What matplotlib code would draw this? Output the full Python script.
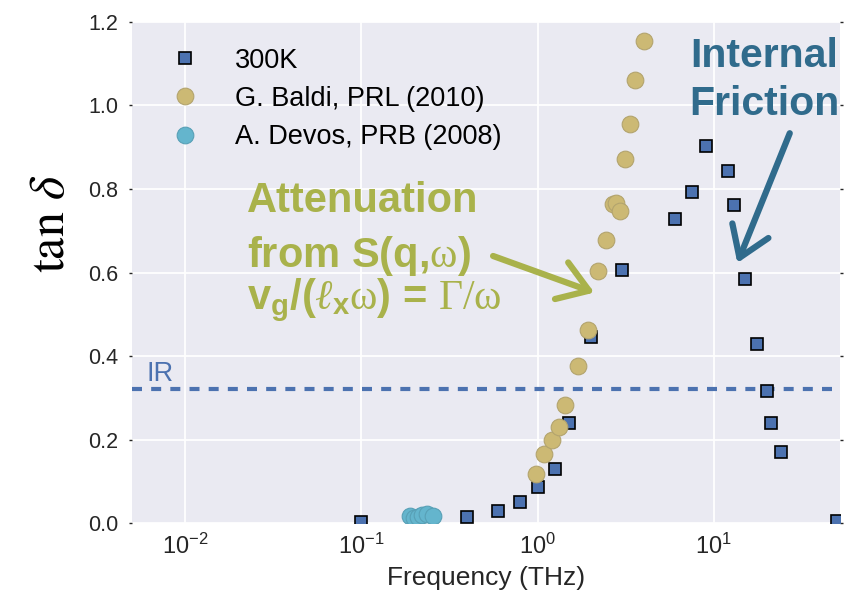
import math

import matplotlib
matplotlib.use("Agg")
import matplotlib.pyplot as plt
from matplotlib.ticker import FixedLocator, FuncFormatter, NullLocator

# 300 K data (squares)
freq_300k = [0.1, 0.4, 0.6, 0.8, 1.0, 1.25, 1.5, 2.0, 3.0, 6.0, 7.5, 9.0,
             12.0, 13.0, 15.0, 17.5, 20.0, 21.0, 24.0, 50.0]
tan_300k = [0.003, 0.015, 0.029, 0.050, 0.087, 0.129, 0.240, 0.446, 0.606,
            0.728, 0.792, 0.904, 0.843, 0.762, 0.584, 0.428, 0.317, 0.239,
            0.170, 0.005]

# G. Baldi, PRL (2010)
freq_baldi = [0.974, 1.087, 1.212, 1.32, 1.44, 1.70, 1.94, 2.20, 2.45, 2.68,
              2.80, 2.95, 3.12, 3.35, 3.56, 4.0]
tan_baldi = [0.117, 0.165, 0.199, 0.230, 0.282, 0.376, 0.462, 0.604, 0.678,
             0.764, 0.766, 0.748, 0.873, 0.956, 1.060, 1.154]

# A. Devos, PRB (2008)
freq_devos = [0.19, 0.20, 0.21, 0.22, 0.235, 0.255]
tan_devos = [0.017, 0.012, 0.014, 0.019, 0.021, 0.017]

ir_level = 0.32
x_ticks = [1e-2, 1e-1, 1e0, 1e1]
y_ticks = [0.0, 0.2, 0.4, 0.6, 0.8, 1.0, 1.2]

BLUE = "#4C72B0"
GOLD = "#CCB974"
CYAN = "#64B5CD"
GREEN = "#A9B24B"
DARK_BLUE = "#306B8C"
TEXT = "#262626"

plt.rcParams["font.family"] = ["Liberation Sans", "DejaVu Sans"]
plt.rcParams["mathtext.fontset"] = "custom"
plt.rcParams["mathtext.rm"] = "Liberation Serif"
plt.rcParams["mathtext.it"] = "Liberation Serif:italic"
plt.rcParams["mathtext.bf"] = "Liberation Sans:bold"
plt.rcParams["mathtext.sf"] = "Liberation Sans"

fig = plt.figure(figsize=(8.66, 6.04), dpi=100)
ax = fig.add_axes([0.1524, 0.134, 0.8176, 0.8296])
ax.set_facecolor("#EAEAF2")
for s in ax.spines.values():
    s.set_visible(False)
ax.grid(True, color="white", lw=1.3)
ax.set_axisbelow(True)

ax.plot(freq_300k, tan_300k, "s", ms=8, mfc=BLUE, mec="black", mew=1.2,
        label="300K", zorder=3)
ax.plot(freq_baldi, tan_baldi, "o", ms=12, mfc=GOLD, mec="#B3A46E", mew=0.8,
        label="G. Baldi, PRL (2010)", zorder=4)
ax.plot(freq_devos, tan_devos, "o", ms=12, mfc=CYAN, mec="#58A0B6", mew=0.8,
        label="A. Devos, PRB (2008)", zorder=4)

ax.axhline(ir_level, color=BLUE, lw=3, ls=(0, (2.4, 2.2)), zorder=2)
ax.text(0.021, ir_level + 0.007, "IR", color=BLUE, fontsize=19.5,
        transform=ax.get_yaxis_transform(), va="bottom", ha="left")

ax.set_xscale("log")
ax.set_xlim(0.005, 52)
ax.set_ylim(0, 1.2)
ax.xaxis.set_major_locator(FixedLocator(x_ticks))
ax.xaxis.set_minor_locator(NullLocator())
ax.xaxis.set_major_formatter(FuncFormatter(
    lambda v, p: r"$\mathsf{10^{%d}}$" % round(math.log10(v))))
ax.set_yticks(y_ticks)
ax.yaxis.set_major_formatter(FuncFormatter(lambda v, p: f"{v:.1f}"))
ax.tick_params(axis="both", colors=TEXT, length=2, width=1)
ax.tick_params(axis="x", labelsize=17, pad=8, length=0)
ax.tick_params(axis="y", labelsize=15.5, right=True, pad=8)

ax.set_xlabel("Frequency (THz)", fontsize=19, color=TEXT, labelpad=5)
ax.set_ylabel(r"$\mathrm{tan}\ \delta$", fontsize=36, color="black",
              math_fontfamily="stix", va="center")
ax.yaxis.set_label_coords(-0.114, 0.597)

ax.legend(loc="upper left", frameon=False, fontsize=19.5, borderaxespad=0.55,
          handletextpad=0.85, labelspacing=0.45, numpoints=1)

# annotations
ann = dict(transform=ax.transAxes, fontsize=30, fontweight="bold",
           color=GREEN, ha="left", va="baseline")
ax.text(0.163, 0.621, "Attenuation", **ann)
ax.text(0.163, 0.512, r"from S(q,$\mathrm{\omega}$)", **ann)
ax.text(0.163, 0.427,
        r"$\mathbf{v_g}$/($\ell_{\mathbf{x}}\mathrm{\omega}$) = $\mathrm{\Gamma/\omega}$",
        **ann)
ax.annotate("", xy=(0.653, 0.460), xytext=(0.510, 0.533),
            xycoords="axes fraction", textcoords="axes fraction",
            arrowprops=dict(arrowstyle="->,head_length=0.75,head_width=0.5",
                            lw=4.5, color=GREEN, shrinkA=0, shrinkB=0,
                            mutation_scale=28))

ax.text(0.893, 0.910, "Internal", transform=ax.transAxes, fontsize=29.5,
        fontweight="bold", color=DARK_BLUE, ha="center", va="baseline")
ax.text(0.893, 0.814, "Friction", transform=ax.transAxes, fontsize=29.5,
        fontweight="bold", color=DARK_BLUE, ha="center", va="baseline")
ax.annotate("", xy=(0.855, 0.519), xytext=(0.929, 0.778),
            xycoords="axes fraction", textcoords="axes fraction",
            arrowprops=dict(arrowstyle="->,head_length=0.75,head_width=0.5",
                            lw=4.5, color=DARK_BLUE, shrinkA=0, shrinkB=0,
                            mutation_scale=28))

fig.savefig("out.png", dpi=100)
